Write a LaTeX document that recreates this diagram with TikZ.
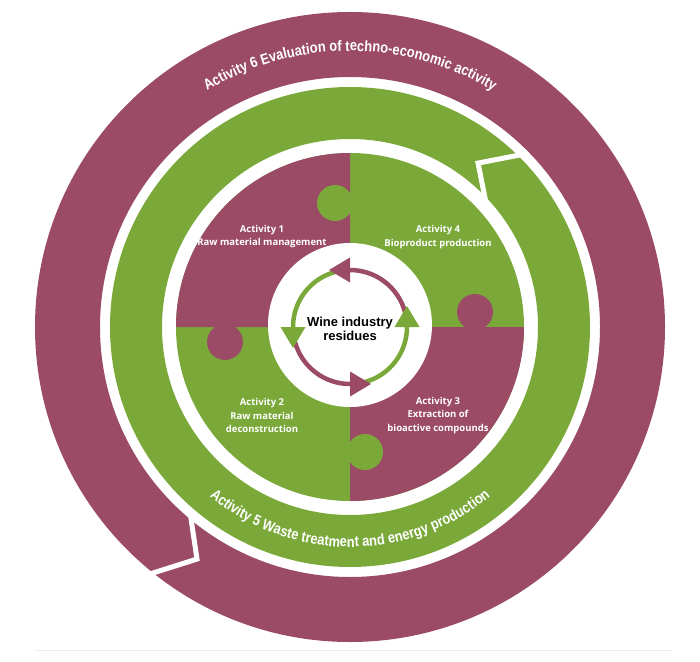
\documentclass[tikz,border=0pt]{standalone}
\usepackage{fontspec}
\setmainfont{Liberation Sans}
\newfontfamily\puzzlefont{Open Sans}
\newfontfamily\ringfont[FakeStretch=0.86]{Liberation Sans}
\usetikzlibrary{decorations.text}
\definecolor{wine}{RGB}{155,75,102}
\definecolor{leaf}{RGB}{122,169,58}

\begin{document}
\begin{tikzpicture}[x=1pt,y=1pt]
\tikzstyle{notch}=[white, line width=5, miter limit=10]
\tikzstyle{knob}=[circle, minimum size=36, inner sep=0pt]
\tikzstyle{acttext}=[text=white, font=\puzzlefont\bfseries\fontsize{9.5}{13.5}\selectfont, align=center]
\tikzstyle{cycleline}=[line width=4.5]

\useasboundingbox (-350,-334) rectangle (350,327);
\draw[black!7, line width=1] (-316,-323) -- (323,-323);

% Outer ring: Activity 6
\fill[wine, even odd rule] (0,0) circle (315) (0,0) circle (250);
\draw[notch] (229:244) -- (236.6:278) -- (230.5:322);
\path[decorate, decoration={text along path, text align=center,
  text={|\color{white}\ringfont\bfseries\fontsize{15}{16}\selectfont|Activity 6 Evaluation of techno-economic activity}}]
  (125:276) arc[start angle=125, end angle=55, radius=276];

% Middle ring: Activity 5
\fill[leaf, even odd rule] (0,0) circle (240) (0,0) circle (188);
\draw[notch] (44.7:246) -- (52:208) -- (41.8:183);
\path[decorate, decoration={text along path, text align=center,
  text={|\color{white}\ringfont\bfseries\fontsize{15}{16}\selectfont|Activity 5 Waste treatment and energy production}}]
  (215:220) arc[start angle=215, end angle=325, radius=220];

% Puzzle
\fill[leaf] (0,0) circle (174);
\fill[wine] (0,0) -- (90:174) arc[start angle=90, end angle=180, radius=174] -- cycle;
\fill[wine] (0,0) -- (270:174) arc[start angle=270, end angle=360, radius=174] -- cycle;
\node[knob, fill=leaf] (knobtop) at (-15,124) {};
\node[knob, fill=wine] (knobright) at (125,15) {};
\node[knob, fill=leaf] (knobbottom) at (15,-125) {};
\node[knob, fill=wine] (knobleft) at (-125,-15) {};

\node[acttext] (act1) at (-88,90.5) {Activity 1\\Raw material management};
\node[acttext] (act4) at (88,90) {Activity 4\\Bioproduct production};
\node[acttext] (act2) at (-88,-88.5) {Activity 2\\Raw material\\deconstruction};
\node[acttext] (act3) at (88,-88.5) {Activity 3\\Extraction of\\bioactive compounds};

% Centre
\fill[white] (0,2) circle (82);
\draw[cycleline, draw=wine] (15:57) arc[start angle=15, end angle=91, radius=57];
\draw[cycleline, draw=wine] (195:57) arc[start angle=195, end angle=271, radius=57];
\draw[cycleline, draw=leaf] (105:57) arc[start angle=105, end angle=181, radius=57];
\draw[cycleline, draw=leaf] (285:57) arc[start angle=285, end angle=361, radius=57];
\foreach \a/\c in {0/wine,90/leaf,180/wine,270/leaf}
  \fill[\c, rotate=\a] (0,69.5) -- (0,44.5) -- (-21,57) -- cycle;
\node[font=\bfseries\fontsize{13}{14}\selectfont, align=center] (residues) at (0,-2) {Wine industry\\residues};
\end{tikzpicture}
\end{document}
